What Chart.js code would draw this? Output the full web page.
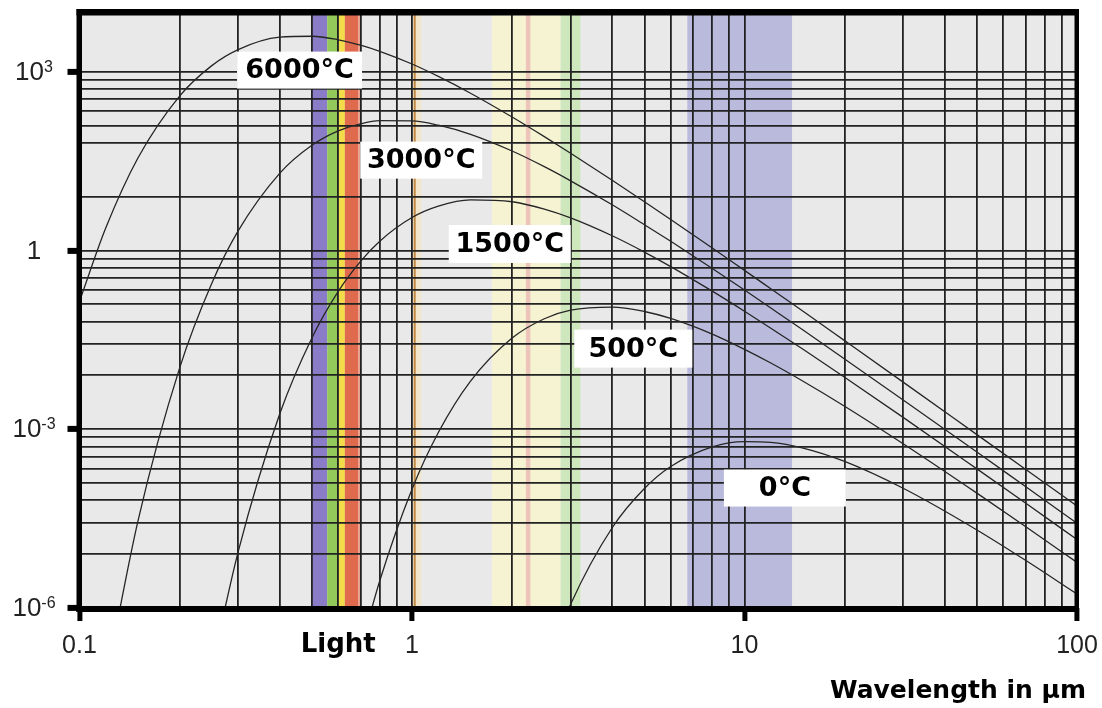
<!DOCTYPE html>
<html>
<head>
<meta charset="utf-8">
<script src="https://cdn.jsdelivr.net/npm/chart.js@4"></script>
<style>
  html, body { margin: 0; padding: 0; background: #fff; }
  #wrap { width: 1102px; height: 708px; }
</style>
</head>
<body>
<div id="wrap"><canvas id="chart" width="1102" height="708"></canvas></div>
<script>
// wavelength in µm, spectral radiance (log-log)
const wavelengths = [0.1, 0.12, 0.15, 0.2, 0.25, 0.3, 0.4, 0.5, 0.6, 0.7, 0.8, 1, 1.2, 1.5, 2, 2.5, 3, 4, 5, 6, 8, 10, 12, 15, 20, 30, 50, 70, 100];

const curveNames = ['6000°C', '3000°C', '1500°C', '500°C', '0°C'];

const t6000 = [0.14, 2.39, 35.8, 389, 1260, 2340, 3780, 3920, 3420, 2780, 2190, 1340, 830, 434, 173, 81.1, 42.7, 15.0, 6.55, 3.29, 1.10, 0.462, 0.227, 0.0951, 0.0306, 6.17e-3, 8.11e-4, 2.13e-4, 5.13e-5];
const t3000 = [null, 5.89e-8, 2.93e-5, 1.06e-2, 0.281, 2.12, 19.6, 57.9, 101, 133, 150, 149, 126, 88.5, 46.5, 25.4, 14.7, 5.82, 2.70, 1.42, 0.497, 0.216, 0.108, 0.0461, 0.0151, 3.10e-3, 4.15e-4, 1.09e-4, 2.65e-5];
const t1500 = [null, null, null, null, 9.73e-8, 8.75e-6, 1.80e-3, 3.40e-2, 0.205, 0.655, 1.43, 3.56, 5.53, 7.05, 6.55, 4.93, 3.51, 1.76, 0.938, 0.535, 0.207, 0.0953, 0.0495, 0.0219, 7.45e-3, 1.58e-3, 2.16e-4, 5.77e-5, 1.41e-5];
const t500 = [null, null, null, null, null, null, null, null, null, 2.00e-7, 2.86e-6, 9.82e-5, 8.79e-4, 6.41e-3, 3.38e-2, 7.13e-2, 9.91e-2, 0.112, 9.44e-2, 7.21e-2, 3.94e-2, 2.19e-2, 1.29e-2, 6.38e-3, 2.43e-3, 5.70e-4, 8.45e-5, 2.33e-5, 5.82e-6];
const t0 = [null, null, null, null, null, null, null, null, null, null, null, null, null, null, null, 8.63e-8, 1.16e-6, 2.22e-5, 1.01e-4, 2.36e-4, 5.04e-4, 6.18e-4, 6.01e-4, 4.83e-4, 2.88e-4, 1.02e-4, 2.04e-5, 6.32e-6, 1.72e-6];

const xTickValues = [0.1, 1, 10, 100];
const xTickLabels = ['0.1', '1', '10', '100'];
const yTickValues = [1e3, 1, 1e-3, 1e-6];
const yTickBases = ['10', '1', '10', '10'];
const yTickExps = ['3', '', '-3', '-6'];
// horizontal rulings of the printed grid
const yGridLines = [
  1e3, 729, 512, 343, 216, 125, 64, 8,
  1, 0.729, 0.512, 0.343, 0.216, 0.125, 0.064, 0.027, 0.008,
  1e-3, 7.29e-4, 5.12e-4, 3.43e-4, 2.16e-4, 1.25e-4, 6.4e-5, 2.7e-5, 8e-6,
  1e-6
];

// coloured wavelength bands [from, to, colour]
const bands = [
  [0.500, 0.556, '#8a7cc6'],
  [0.556, 0.603, '#92c95a'],
  [0.603, 0.628, '#f3dc4a'],
  [0.628, 0.690, '#df6a4d'],
  [0.690, 0.702, '#eba08c'],
  [1.000, 1.065, '#f1e5cc'],
  [1.012, 1.026, '#c08845'],
  [1.74, 2.80, '#f6f3d3'],
  [2.20, 2.27, '#ecc4ba'],
  [2.80, 3.21, '#cfe7bc'],
  [6.73, 13.9, '#babbdc']
];

// label boxes: centre in data units, box size in px
const labelAt = [[0.459, 1060], [1.066, 32.7], [1.968, 1.28], [4.63, 0.0225], [13.23, 1.03e-4]];
const labelBox = [[125, 37], [122, 37], [122, 38], [118, 38], [122, 37]];

const xGrid = [];
[0.1, 1, 10].forEach(d => {
  for (let m = 1; m <= 9; m++) xGrid.push(+(m * d).toPrecision(3));
});
xGrid.push(100);

const series = [t6000, t3000, t1500, t500, t0];

const backdrop = {
  id: 'backdrop',
  beforeDraw(chart) {
    const { ctx, chartArea: a, scales: { x } } = chart;
    ctx.save();
    ctx.fillStyle = '#e9e9e9';
    ctx.fillRect(a.left, a.top, a.right - a.left, a.bottom - a.top);
    bands.forEach(([from, to, color]) => {
      const x0 = x.getPixelForValue(from);
      const x1 = x.getPixelForValue(to);
      ctx.fillStyle = color;
      ctx.fillRect(x0, a.top, x1 - x0, a.bottom - a.top);
    });
    ctx.restore();
  }
};

const overlay = {
  id: 'overlay',
  afterDatasetsDraw(chart) {
    const { ctx, chartArea: a, scales: { x, y } } = chart;
    ctx.save();
    // temperature labels
    ctx.font = "bold 27px 'DejaVu Sans'";
    ctx.textAlign = 'center';
    ctx.textBaseline = 'middle';
    curveNames.forEach((name, i) => {
      const cx = x.getPixelForValue(labelAt[i][0]);
      const cy = y.getPixelForValue(labelAt[i][1]);
      const [w, h] = labelBox[i];
      ctx.fillStyle = '#ffffff';
      ctx.fillRect(cx - w / 2, cy - h / 2, w, h);
      ctx.fillStyle = '#000000';
      ctx.fillText(name, cx, cy + 1);
    });
    // heavy frame
    ctx.fillStyle = '#000000';
    ctx.fillRect(a.left - 3, a.top - 3, a.right - a.left + 5, 6.5);
    ctx.fillRect(a.left - 3, a.bottom - 2, a.right - a.left + 5, 6);
    ctx.fillRect(a.left - 3, a.top - 3, 5.5, a.bottom - a.top + 7);
    ctx.fillRect(a.right - 2.5, a.top - 3, 4.5, a.bottom - a.top + 7);
    ctx.restore();
  },
  afterDraw(chart) {
    const { ctx, scales: { x, y } } = chart;
    ctx.save();
    ctx.fillStyle = '#222222';
    yTickValues.forEach((v, i) => {
      const py = y.getPixelForValue(v);
      ctx.font = "26px 'Liberation Sans'";
      const w1 = ctx.measureText(yTickBases[i]).width;
      ctx.font = "16px 'Liberation Sans'";
      const w2 = yTickExps[i] ? ctx.measureText(yTickExps[i]).width : 0;
      const left = 34 - (w1 + w2) / 2;
      ctx.textAlign = 'left';
      ctx.textBaseline = 'middle';
      ctx.font = "26px 'Liberation Sans'";
      ctx.fillText(yTickBases[i], left, py + 1);
      if (yTickExps[i]) {
        ctx.textBaseline = 'alphabetic';
        ctx.font = "16px 'Liberation Sans'";
        ctx.fillText(yTickExps[i], left + w1, py);
      }
    });
    ctx.fillStyle = '#000000';
    ctx.font = "bold 26px 'DejaVu Sans'";
    ctx.textAlign = 'center';
    ctx.textBaseline = 'middle';
    ctx.fillText('Light', x.getPixelForValue(0.6), 645);
    ctx.font = "bold 25px 'DejaVu Sans'";
    ctx.textAlign = 'right';
    ctx.fillText('Wavelength in µm', 1086, 691);
    ctx.restore();
  }
};

const ctx = document.getElementById('chart').getContext('2d');
new Chart(ctx, {
  type: 'line',
  data: {
    datasets: curveNames.map((name, i) => ({
      label: name,
      data: wavelengths
        .map((w, j) => ({ x: w, y: series[i][j] }))
        .filter(p => p.y !== null),
      borderColor: '#262626',
      borderWidth: 1.3,
      pointRadius: 0,
      fill: false,
      cubicInterpolationMode: 'monotone'
    }))
  },
  options: {
    responsive: false,
    animation: false,
    devicePixelRatio: 1,
    layout: { padding: { top: 12, right: 25, left: 0, bottom: 0 } },
    plugins: {
      legend: { display: false },
      tooltip: { enabled: false }
    },
    scales: {
      x: {
        type: 'logarithmic',
        position: 'bottom',
        min: 0.1,
        max: 100,
        afterBuildTicks: (scale) => {
          scale.ticks = xGrid.map(v => ({ value: v, major: xTickValues.includes(v) }));
        },
        afterFit: (scale) => {
          scale.height = 100;
          scale.paddingLeft = 0;
          scale.paddingRight = 0;
        },
        border: { display: false },
        grid: {
          color: '#222222',
          lineWidth: 1.8,
          tickLength: 13,
          tickColor: (c) => (c.tick && c.tick.major ? '#000000' : 'rgba(0,0,0,0)'),
          tickWidth: (c) => (c.tick && c.tick.major ? 5 : 0)
        },
        ticks: {
          autoSkip: false,
          maxRotation: 0,
          minRotation: 0,
          padding: 10,
          color: '#222222',
          font: { family: 'Liberation Sans', size: 25 },
          callback: (value) => {
            const k = xTickValues.indexOf(value);
            return k >= 0 ? xTickLabels[k] : '';
          }
        }
      },
      y: {
        type: 'logarithmic',
        position: 'left',
        min: 1e-6,
        max: 1e4,
        afterBuildTicks: (scale) => {
          scale.ticks = yGridLines.map(v => ({ value: v, major: yTickValues.includes(v) }));
        },
        afterFit: (scale) => { scale.width = 79.5; },
        border: { display: false },
        grid: {
          color: '#222222',
          lineWidth: 1.8,
          tickLength: 12,
          tickColor: (c) => (c.tick && c.tick.major ? '#000000' : 'rgba(0,0,0,0)'),
          tickWidth: (c) => (c.tick && c.tick.major ? 6 : 0)
        },
        ticks: { display: false }
      }
    }
  },
  plugins: [backdrop, overlay]
});
</script>
</body>
</html>
